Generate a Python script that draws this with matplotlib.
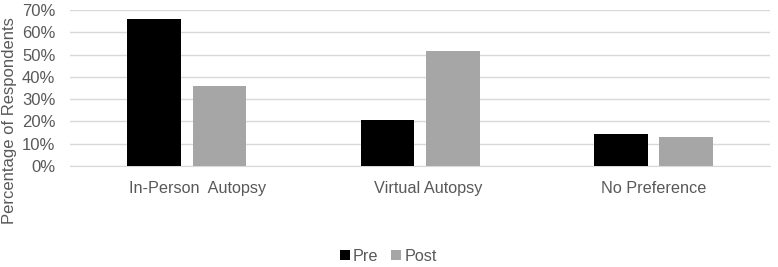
import numpy as np
import matplotlib
matplotlib.use('Agg')
import matplotlib.pyplot as plt
import matplotlib.transforms as mtransforms
from matplotlib.ticker import PercentFormatter

plt.rcParams['font.family'] = ['Liberation Sans', 'DejaVu Sans']

categories = ['In-Person  Autopsy', 'Virtual Autopsy', 'No Preference']
pre = [66, 20.5, 14.3]
post = [36, 51.5, 13.1]

txtcol = '#595959'
gridcol = '#d9d9d9'

fig = plt.figure(figsize=(7.78, 2.67), dpi=100)
ax = fig.add_axes([0.09, 0.378, 0.90, 0.585])

x = np.arange(len(categories))
w = 0.23
gap = 0.05
ax.bar(x - (w + gap) / 2, pre, w, color='black', label='Pre', zorder=3)
ax.bar(x + (w + gap) / 2, post, w, color='#a6a6a6', label='Post', zorder=3)

ax.set_xlim(-0.5, 2.5)
ax.set_ylim(0, 70)
ax.set_yticks(np.arange(0, 71, 10))
ax.yaxis.set_major_formatter(PercentFormatter(decimals=0))
ax.set_xticks(x)
ax.set_xticklabels(categories)
ax.grid(axis='y', color=gridcol, lw=1, zorder=0)
for s in ['top', 'right', 'left']:
    ax.spines[s].set_visible(False)
ax.spines['bottom'].set_color(gridcol)
ax.tick_params(length=0, labelsize=11.7, colors=txtcol)
ax.tick_params(axis='x', pad=11)
ax.tick_params(axis='y', labelsize=12, pad=10.5)

# labels sit a little right of the bar pairs in the original
shifts = [11, 8, 0]
for lab, dx in zip(ax.get_xticklabels(), shifts):
    lab.set_transform(lab.get_transform() +
                      mtransforms.ScaledTranslation(dx / 100, 0, fig.dpi_scale_trans))

fig.text(10 / 778, 1 - 121 / 267, 'Percentage of Respondents', rotation=90,
         ha='center', va='center', fontsize=12, color=txtcol)

leg = fig.legend(loc='center', bbox_to_anchor=(0.499, 0.041), ncol=2, frameon=False,
                 fontsize=11.7, handlelength=0.6, handleheight=0.6, handletextpad=0.2,
                 columnspacing=0.8)
for t in leg.get_texts():
    t.set_color(txtcol)

fig.savefig('out.png', dpi=100)
